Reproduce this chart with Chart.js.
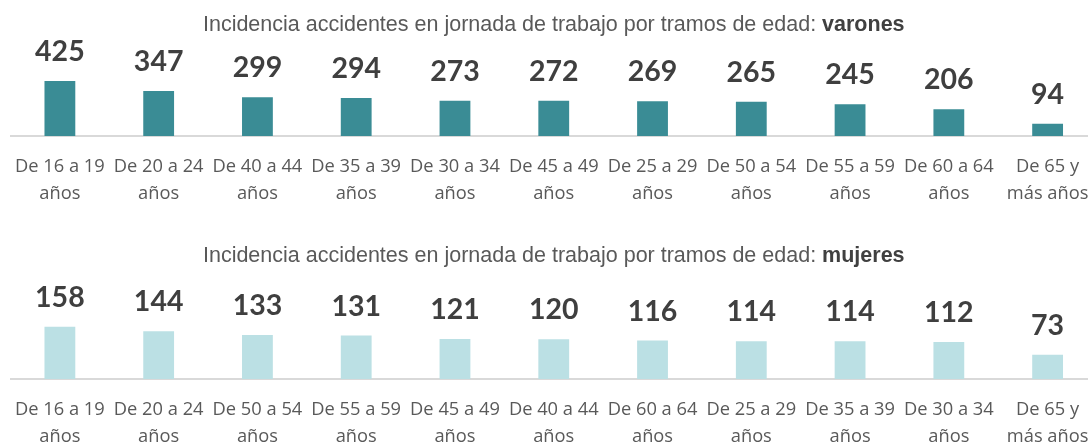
<!DOCTYPE html>
<html>
<head>
<meta charset="utf-8">
<script src="https://cdn.jsdelivr.net/npm/chart.js@4"></script>
<style>
  body { margin: 0; overflow: hidden; background: #fff; width: 1088px; height: 444px; }
  canvas { display: block; }
</style>
</head>
<body>
<canvas id="chartVarones" width="1100" height="222"></canvas>
<canvas id="chartMujeres" width="1100" height="230"></canvas>
<script>
// data
const catVarones = [['De 16 a 19', 'años'], ['De 20 a 24', 'años'], ['De 40 a 44', 'años'], ['De 35 a 39', 'años'],
    ['De 30 a 34', 'años'], ['De 45 a 49', 'años'], ['De 25 a 29', 'años'], ['De 50 a 54', 'años'],
    ['De 55 a 59', 'años'], ['De 60 a 64', 'años'], ['De 65 y', 'más años']];
const valVarones = [425, 347, 299, 294, 273, 272, 269, 265, 245, 206, 94];

const catMujeres = [['De 16 a 19', 'años'], ['De 20 a 24', 'años'], ['De 50 a 54', 'años'], ['De 55 a 59', 'años'],
    ['De 45 a 49', 'años'], ['De 40 a 44', 'años'], ['De 60 a 64', 'años'], ['De 25 a 29', 'años'],
    ['De 35 a 39', 'años'], ['De 30 a 34', 'años'], ['De 65 y', 'más años']];
const valMujeres = [158, 144, 133, 131, 121, 120, 116, 114, 114, 112, 73];

const titleStart = 'Incidencia accidentes en jornada de trabajo por tramos de edad: ';

// value labels above each bar
const valueLabels = {
    id: 'valueLabels',
    afterDatasetsDraw(chart) {
        let ctx = chart.ctx;
        let meta = chart.getDatasetMeta(0);
        ctx.save();
        ctx.font = 'bold 28.5px Lato, "Open Sans", sans-serif';
        ctx.fillStyle = '#3f3f3f';
        ctx.textAlign = 'center';
        ctx.textBaseline = 'alphabetic';
        meta.data.forEach((bar, i) => {
            ctx.fillText(chart.data.datasets[0].data[i], bar.x, bar.y - 20);
        });
        ctx.restore();
    }
};

// title with a bold last word
const mixedTitle = {
    id: 'mixedTitle',
    afterDraw(chart, args, opts) {
        let ctx = chart.ctx;
        let area = chart.chartArea;
        ctx.save();
        let normalFont = '21.5px "Liberation Sans", Arial, sans-serif';
        let boldFont = 'bold 21.5px "Liberation Sans", Arial, sans-serif';
        ctx.font = normalFont;
        let w1 = ctx.measureText(titleStart).width;
        ctx.font = boldFont;
        let w2 = ctx.measureText(opts.word).width;
        let x = (area.left + area.right) / 2 - (w1 + w2) / 2;
        ctx.textBaseline = 'middle';
        ctx.textAlign = 'left';
        ctx.font = normalFont;
        ctx.fillStyle = '#595959';
        ctx.fillText(titleStart, x, opts.y);
        ctx.font = boldFont;
        ctx.fillStyle = '#404040';
        ctx.fillText(opts.word, x + w1, opts.y);
        ctx.restore();
    }
};

function makeChart(id, labels, values, color, word, titleY, yMax, axisHeight) {
    let el = document.getElementById(id).getContext('2d');
    return new Chart(el, {
        type: 'bar',
        data: {
            labels: labels,
            datasets: [{
                data: values,
                backgroundColor: color,
                barPercentage: 0.8,
                categoryPercentage: 0.39
            }]
        },
        options: {
            responsive: false,
            animation: false,
            layout: { padding: { top: 50, left: 10.5, right: 3, bottom: 0 } },
            plugins: {
                legend: { display: false },
                title: { display: false },
                tooltip: { enabled: false },
                mixedTitle: { word: word, y: titleY }
            },
            scales: {
                x: {
                    grid: { display: false, drawTicks: false },
                    border: { display: true, color: '#d9d9d9', width: 2 },
                    ticks: {
                        color: '#595959',
                        font: { family: '"Open Sans", sans-serif', size: 18.3, lineHeight: 1.5 },
                        padding: 17,
                        maxRotation: 0,
                        autoSkip: false
                    },
                    afterFit(scale) {
                        scale.height = axisHeight;
                        scale.paddingLeft = 0;
                        scale.paddingRight = 0;
                    }
                },
                y: { display: false, min: 0, max: yMax }
            }
        },
        plugins: [valueLabels, mixedTitle]
    });
}

makeChart('chartVarones', catVarones, valVarones, '#3a8c95', 'varones', 25, 665, 86);
makeChart('chartMujeres', catMujeres, valMujeres, '#bbe0e4', 'mujeres', 34, 323, 73);
</script>
</body>
</html>
